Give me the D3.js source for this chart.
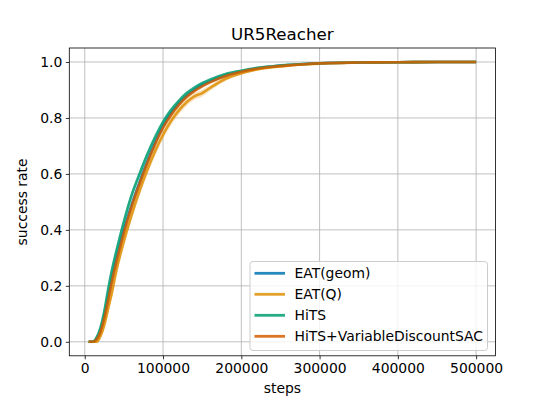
<!DOCTYPE html>
<html>
<head>
<meta charset="utf-8">
<script src="https://cdn.jsdelivr.net/npm/d3@7"></script>
<style>
  body { margin: 0; background: #fff; }
  svg { display: block; font-family: "DejaVu Sans", sans-serif; }
</style>
</head>
<body>
<svg id="chart" width="550" height="400"></svg>
<script>
// ---- data ----
const title = "UR5Reacher";
const xLabel = "steps";
const yLabel = "success rate";
const xTicks = [0, 100000, 200000, 300000, 400000, 500000];
const yTicks = [0.0, 0.2, 0.4, 0.6, 0.8, 1.0];
const seriesNames = ["EAT(geom)", "EAT(Q)", "HiTS", "HiTS+VariableDiscountSAC"];
const seriesColors = ["#0173b2", "#de8f05", "#029e73", "#d55e00"];

const steps = [5000, 10000, 15000, 20000, 25000, 30000, 35000, 40000, 50000, 60000, 70000, 80000, 90000, 100000, 110000, 120000, 130000, 140000, 150000, 160000, 180000, 200000, 220000, 240000, 260000, 280000, 300000, 350000, 400000, 450000, 500000];

const eatGeom = [0.0, 0.0, 0.01, 0.04, 0.09, 0.16, 0.23, 0.29, 0.40, 0.49, 0.57, 0.645, 0.712, 0.77, 0.815, 0.85, 0.878, 0.90, 0.917, 0.93, 0.952, 0.966, 0.977, 0.984, 0.989, 0.993, 0.995, 0.998, 0.999, 1.0, 1.0];
const eatQ = [0.0, 0.0, 0.0, 0.02, 0.06, 0.12, 0.18, 0.25, 0.36, 0.455, 0.54, 0.615, 0.682, 0.74, 0.788, 0.826, 0.856, 0.877, 0.889, 0.907, 0.94, 0.96, 0.973, 0.981, 0.987, 0.991, 0.994, 0.998, 0.999, 1.0, 1.0];
const hits = [0.0, 0.0, 0.015, 0.05, 0.11, 0.19, 0.26, 0.32, 0.43, 0.525, 0.60, 0.67, 0.732, 0.785, 0.827, 0.86, 0.888, 0.908, 0.924, 0.937, 0.957, 0.969, 0.979, 0.985, 0.99, 0.993, 0.995, 0.998, 0.999, 1.0, 1.0];
const hitsVD = [0.0, 0.0, 0.008, 0.035, 0.085, 0.15, 0.22, 0.28, 0.39, 0.485, 0.565, 0.64, 0.707, 0.765, 0.81, 0.846, 0.875, 0.896, 0.913, 0.927, 0.95, 0.965, 0.976, 0.983, 0.988, 0.992, 0.995, 0.998, 0.999, 1.0, 1.0];

const eatGeomStd = [0, 0, 0.005, 0.01, 0.012, 0.014, 0.015, 0.015, 0.015, 0.015, 0.014, 0.013, 0.012, 0.011, 0.01, 0.009, 0.008, 0.007, 0.006, 0.005, 0.004, 0.003, 0.002, 0.002, 0.001, 0.001, 0.001, 0, 0, 0, 0];
const eatQStd = [0, 0, 0.004, 0.012, 0.016, 0.018, 0.02, 0.02, 0.02, 0.02, 0.019, 0.018, 0.017, 0.016, 0.015, 0.014, 0.013, 0.012, 0.012, 0.01, 0.008, 0.006, 0.004, 0.003, 0.002, 0.002, 0.001, 0, 0, 0, 0];
const hitsStd = [0, 0, 0.006, 0.012, 0.015, 0.016, 0.016, 0.016, 0.016, 0.015, 0.014, 0.013, 0.012, 0.011, 0.01, 0.009, 0.008, 0.007, 0.006, 0.005, 0.004, 0.003, 0.002, 0.002, 0.001, 0.001, 0.001, 0, 0, 0, 0];
const hitsVDStd = [0, 0, 0.004, 0.008, 0.01, 0.011, 0.012, 0.012, 0.012, 0.012, 0.011, 0.01, 0.009, 0.008, 0.008, 0.007, 0.006, 0.005, 0.005, 0.004, 0.003, 0.002, 0.002, 0.001, 0.001, 0.001, 0.001, 0, 0, 0, 0];

const seriesValues = [eatGeom, eatQ, hits, hitsVD];
const seriesStd = [eatGeomStd, eatQStd, hitsStd, hitsVDStd];

// ---- layout ----
const svg = d3.select("#chart");
const margin = { left: 69.3, right: 550 - 495.5, top: 48, bottom: 400 - 355.8 };
const W = 550, H = 400;
const x = d3.scaleLinear().domain([-19750, 524750]).range([margin.left, W - margin.right]);
const y = d3.scaleLinear().domain([-0.05, 1.05]).range([H - margin.bottom, margin.top]);

const clipId = "plotclip";
svg.append("defs").append("clipPath").attr("id", clipId)
  .append("rect").attr("x", margin.left).attr("y", margin.top)
  .attr("width", W - margin.left - margin.right).attr("height", H - margin.top - margin.bottom);

// grid
const grid = svg.append("g");
grid.selectAll("line.gx").data(xTicks).join("line")
  .attr("x1", d => x(d)).attr("x2", d => x(d))
  .attr("y1", margin.top).attr("y2", H - margin.bottom)
  .attr("stroke", "#b0b0b0").attr("stroke-width", 0.8);
grid.selectAll("line.gy").data(yTicks).join("line")
  .attr("y1", d => y(d)).attr("y2", d => y(d))
  .attr("x1", margin.left).attr("x2", W - margin.right)
  .attr("stroke", "#b0b0b0").attr("stroke-width", 0.8);

// series
const plot = svg.append("g").attr("clip-path", `url(#${clipId})`);
const area = d3.area().curve(d3.curveMonotoneX);
const line = d3.line().curve(d3.curveMonotoneX);
seriesValues.forEach((vals, i) => {
  const std = seriesStd[i];
  const pts = steps.map((s, k) => ({ s, v: vals[k], sd: std[k] }));
  plot.append("path")
    .attr("d", area.x(d => x(d.s)).y0(d => y(d.v - d.sd)).y1(d => y(d.v + d.sd))(pts))
    .attr("fill", seriesColors[i]).attr("fill-opacity", 0.25).attr("stroke", "none");
});
seriesValues.forEach((vals, i) => {
  const pts = steps.map((s, k) => [x(s), y(vals[k])]);
  plot.append("path")
    .attr("d", line(pts))
    .attr("fill", "none").attr("stroke", seriesColors[i])
    .attr("stroke-opacity", 0.85).attr("stroke-width", 2.6);
});

// axes
const xAxis = d3.axisBottom(x).tickValues(xTicks).tickFormat(d3.format("d")).tickSize(3.5).tickPadding(3.5);
const yAxis = d3.axisLeft(y).tickValues(yTicks).tickFormat(d3.format(".1f")).tickSize(3.5).tickPadding(3.5);
const gx = svg.append("g").attr("transform", `translate(0,${H - margin.bottom})`).call(xAxis);
const gy = svg.append("g").attr("transform", `translate(${margin.left},0)`).call(yAxis);
[gx, gy].forEach(g => {
  g.select(".domain").remove();
  g.selectAll(".tick line").attr("stroke", "#000").attr("stroke-width", 0.8);
  g.selectAll(".tick text").attr("fill", "#000").attr("font-size", "13.9px")
    .attr("font-family", "DejaVu Sans, sans-serif");
});

// spines
svg.append("rect").attr("x", margin.left).attr("y", margin.top)
  .attr("width", W - margin.left - margin.right).attr("height", H - margin.top - margin.bottom)
  .attr("fill", "none").attr("stroke", "#000").attr("stroke-width", 0.8);

// labels
svg.append("text").attr("x", (margin.left + W - margin.right) / 2).attr("y", 40)
  .attr("text-anchor", "middle").attr("font-size", "16.7px").attr("fill", "#000").text(title);
svg.append("text").attr("x", (margin.left + W - margin.right) / 2).attr("y", 393)
  .attr("text-anchor", "middle").attr("font-size", "13.9px").attr("fill", "#000").text(xLabel);
svg.append("text").attr("transform", `translate(27,${(margin.top + H - margin.bottom) / 2}) rotate(-90)`)
  .attr("text-anchor", "middle").attr("font-size", "13.9px").attr("fill", "#000").text(yLabel);

// legend
const lg = svg.append("g");
lg.append("rect").attr("x", 250).attr("y", 261.5).attr("width", 237.5).attr("height", 89)
  .attr("rx", 3).attr("fill", "#fff").attr("fill-opacity", 0.8)
  .attr("stroke", "#cccccc").attr("stroke-width", 1);
seriesNames.forEach((name, i) => {
  const cy = 273.3 + i * 21;
  lg.append("line").attr("x1", 254.5).attr("x2", 285).attr("y1", cy).attr("y2", cy)
    .attr("stroke", seriesColors[i]).attr("stroke-opacity", 0.85).attr("stroke-width", 2.8);
  lg.append("text").attr("x", 294.5).attr("y", cy).attr("dy", "0.36em")
    .attr("font-size", "13.9px").attr("fill", "#000").text(name);
});
</script>
</body>
</html>
